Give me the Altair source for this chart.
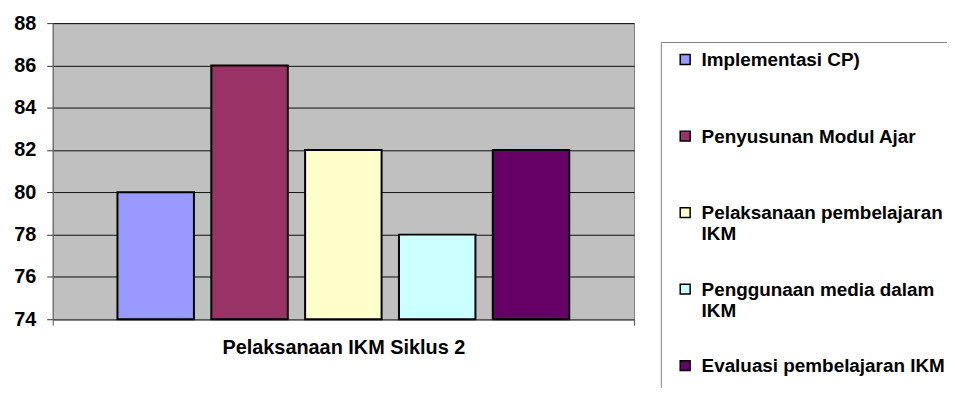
import altair as alt
import pandas as pd

# ---- data ----
kategori = ["Pelaksanaan IKM Siklus 2"]
aspek = [
    "Implementasi CP)",
    "Penyusunan Modul Ajar",
    "Pelaksanaan pembelajaran IKM",
    "Penggunaan media dalam IKM",
    "Evaluasi pembelajaran IKM",
]
nilai = [80, 86, 82, 78, 82]
warna = ["#9999FF", "#993366", "#FFFFCC", "#CCFFFF", "#660066"]
y_ticks = [74, 76, 78, 80, 82, 84, 86, 88]
# legend label lines (wrapped as in the reference)
legend_lines = [
    ["Implementasi CP)", ""],
    ["Penyusunan Modul Ajar", ""],
    ["Pelaksanaan pembelajaran", "IKM"],
    ["Penggunaan media dalam", "IKM"],
    ["Evaluasi pembelajaran IKM", ""],
]

df = pd.DataFrame({
    "kategori": kategori * len(aspek),
    "aspek": aspek,
    "nilai": nilai,
})

FONT = "Liberation Sans, Arial, sans-serif"

expr = "[datum.label, '']"
for name, lines in reversed(list(zip(aspek, legend_lines))):
    arr = "[" + ", ".join("'" + s + "'" for s in lines) + "]"
    expr = f"datum.label == '{name}' ? {arr} : ({expr})"

chart = alt.Chart(df).mark_bar(stroke="black", strokeWidth=2).encode(
    x=alt.X(
        "kategori:N",
        scale=alt.Scale(paddingInner=0, paddingOuter=0),
        axis=alt.Axis(
            title=None, labelAngle=0, tickBand="extent", tickSize=6,
            tickColor="#555555", domainColor="#555555", domainWidth=1.5,
            labelFont=FONT, labelFontSize=20, labelFontWeight="bold",
            labelColor="black", labelPadding=12, labelLimit=0, grid=False,
        ),
    ),
    xOffset=alt.XOffset(
        "aspek:N", sort=aspek,
        scale=alt.Scale(paddingInner=0.185, paddingOuter=0.69),
    ),
    y=alt.Y(
        "nilai:Q",
        scale=alt.Scale(domain=[74, 88], zero=False, nice=False),
        axis=alt.Axis(
            title=None, values=y_ticks, tickSize=6, tickColor="#333333",
            domainColor="#666666", labelFont=FONT, labelFontSize=20,
            labelFontWeight="bold", labelColor="black", labelPadding=11,
            grid=True, gridColor="#111111", gridWidth=1,
        ),
    ),
    y2=alt.datum(74),
    color=alt.Color(
        "aspek:N", sort=aspek,
        scale=alt.Scale(domain=aspek, range=warna),
        legend=alt.Legend(
            title=None, orient="none", legendX=612, legendY=19,
            direction="vertical", columns=1,
            padding=15, strokeColor="#808080", fillColor="white",
            symbolType="M-1,-2.36H1V-0.36H-1Z", symbolSize=100,
            symbolStrokeColor="black", symbolStrokeWidth=1.5,
            symbolOpacity=1,
            labelFont=FONT, labelFontSize=19, labelFontWeight="bold",
            labelColor="black", labelBaseline="alphabetic",
            labelOffset=7, labelLimit=400, rowPadding=36,
            labelExpr=expr,
        ),
    ),
).properties(
    width=585, height=298,
    autosize=alt.AutoSizeParams(type="none"),
    padding={"left": 45, "top": 14, "right": 315, "bottom": 68},
).configure_view(
    fill="#C0C0C0", stroke="#808080", strokeWidth=1,
)

chart.save("out.html", embed_options={"renderer": "svg", "actions": False})
